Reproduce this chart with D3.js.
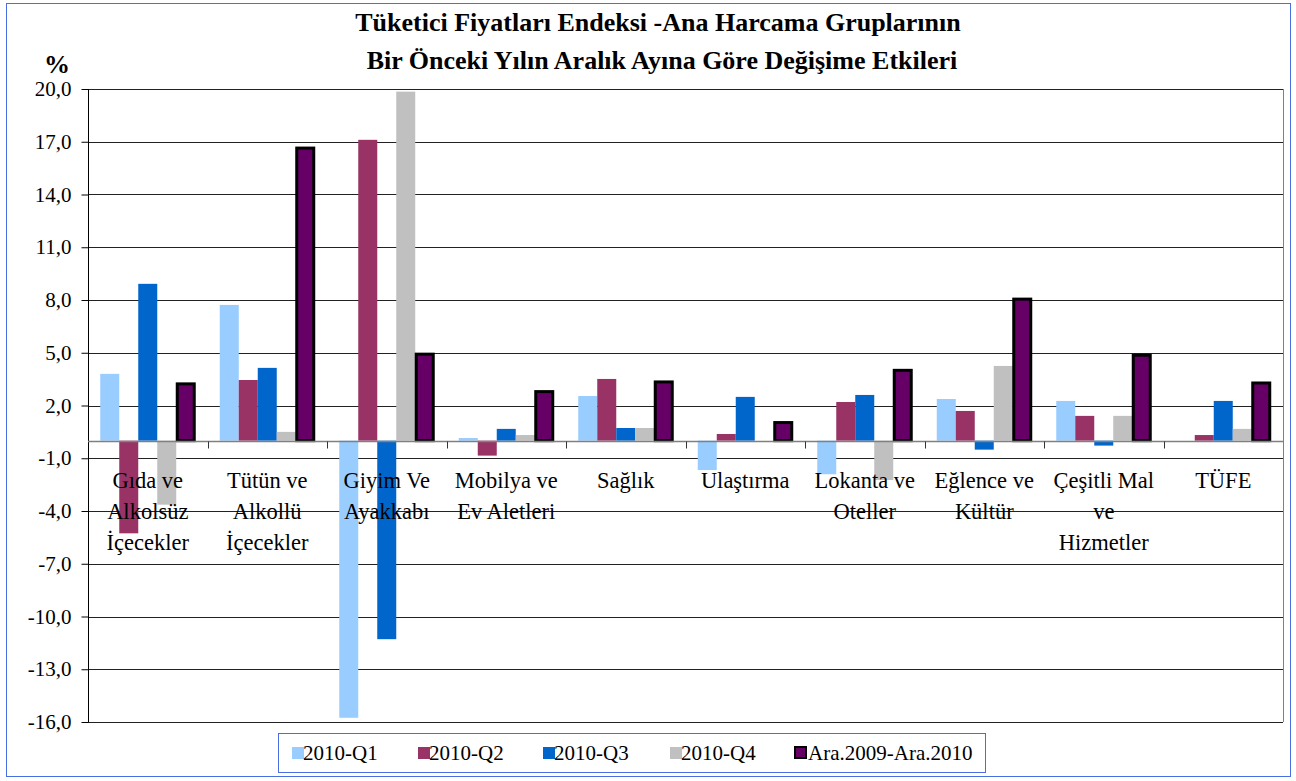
<!DOCTYPE html>
<html>
<head>
<meta charset="utf-8">
<script src="https://cdn.jsdelivr.net/npm/d3@7"></script>
<style>
  body { margin: 0; background: #fff; }
  svg { display: block; font-family: "Liberation Serif", "Times New Roman", serif; }
</style>
</head>
<body>
<svg id="chart"></svg>
<script>
// categories (multi-line labels)
const categories = [
  ["Gıda ve", "Alkolsüz", "İçecekler"],
  ["Tütün ve", "Alkollü", "İçecekler"],
  ["Giyim Ve", "Ayakkabı"],
  ["Mobilya ve", "Ev Aletleri"],
  ["Sağlık"],
  ["Ulaştırma"],
  ["Lokanta ve", "Oteller"],
  ["Eğlence ve", "Kültür"],
  ["Çeşitli Mal", "ve", "Hizmetler"],
  ["TÜFE"]
];

const seriesNames = ["2010-Q1", "2010-Q2", "2010-Q3", "2010-Q4", "Ara.2009-Ara.2010"];
const seriesColors = ["#99CCFF", "#993366", "#0066CC", "#C0C0C0", "#660066"];

const q1 = [3.80, 7.72, -15.76, 0.15, 2.54, -1.67, -1.91, 2.37, 2.26, 0.00];
const q2 = [-5.27, 3.45, 17.11, -0.85, 3.51, 0.38, 2.20, 1.69, 1.41, 0.32];
const q3 = [8.92, 4.14, -11.29, 0.67, 0.72, 2.49, 2.60, -0.51, -0.28, 2.26];
const q4 = [-3.64, 0.50, 19.85, 0.32, 0.72, 0.00, -2.24, 4.25, 1.41, 0.67];
const annual = [3.23, 16.64, 4.92, 2.79, 3.34, 1.03, 4.00, 8.05, 4.86, 3.28];

const yTicks = [20, 17, 14, 11, 8, 5, 2, -1, -4, -7, -10, -13, -16];

const seriesValues = [q1, q2, q3, q4, annual];

const W = 1296, H = 781;
const margin = {top: 89, right: 13, bottom: 59, left: 88};
const serif = "'Liberation Serif', 'Times New Roman', serif";

const svg = d3.select("#chart").attr("width", W).attr("height", H);

// outer chart border
svg.append("rect")
    .attr("x", 6.5).attr("y", 3.5)
    .attr("width", 1284).attr("height", 773)
    .attr("fill", "#fff")
    .attr("stroke", "#4A6FE3")
    .attr("stroke-width", 1);

const x0 = d3.scaleBand()
    .domain(d3.range(categories.length))
    .range([margin.left, W - margin.right])
    .padding(0);

const x1 = d3.scaleBand()
    .domain(d3.range(seriesNames.length))
    .range([0, x0.bandwidth()])
    .paddingInner(0)
    .paddingOuter(0.645);

const y = d3.scaleLinear()
    .domain([-16, 20])
    .range([H - margin.bottom, margin.top]);

// gridlines
const g = svg.append("g");

g.append("g")
    .selectAll("line")
    .data(yTicks)
    .join("line")
      .attr("x1", margin.left)
      .attr("x2", W - margin.right)
      .attr("y1", d => Math.round(y(d)) + 0.5)
      .attr("y2", d => Math.round(y(d)) + 0.5)
      .attr("stroke", "#222")
      .attr("stroke-width", 1);

// right border of plot area
g.append("line")
    .attr("x1", W - margin.right + 0.5).attr("x2", W - margin.right + 0.5)
    .attr("y1", y(20)).attr("y2", y(-16))
    .attr("stroke", "#808080");

// y axis
const yAxis = d3.axisLeft(y)
    .tickValues(yTicks)
    .tickSize(7)
    .tickPadding(10)
    .tickFormat(d => d3.format(".1f")(d).replace(".", ",").replace("−", "-"));

const ya = svg.append("g")
    .attr("transform", `translate(${margin.left + 0.5},0)`)
    .call(yAxis)
    .attr("font-family", serif)
    .attr("font-size", 21);
ya.select(".domain").attr("stroke", "#000").attr("d", `M0,${y(20)}V${y(-16)}`);
ya.selectAll(".tick line").attr("stroke", "#000");
ya.selectAll(".tick text").attr("fill", "#000");

// bars
const rows = categories.map((c, i) => seriesValues.map((s, k) => ({cat: i, ser: k, v: s[i]})));

svg.append("g")
  .selectAll("g")
  .data(rows)
  .join("g")
    .attr("transform", (d, i) => `translate(${x0(i)},0)`)
  .selectAll("rect")
  .data(d => d)
  .join("rect")
    .attr("x", d => x1(d.ser) + (d.ser === 4 ? 1 : 0))
    .attr("width", d => x1.bandwidth() - (d.ser === 4 ? 2 : 0))
    .attr("y", d => y(Math.max(0, d.v)))
    .attr("height", d => Math.abs(y(d.v) - y(0)))
    .attr("fill", d => seriesColors[d.ser])
    .attr("stroke", d => d.ser === 4 ? "#000" : "none")
    .attr("stroke-width", 3);

// zero axis with category ticks
const zy = Math.round(y(0)) + 0.5;
svg.append("line")
    .attr("x1", margin.left).attr("x2", W - margin.right)
    .attr("y1", zy).attr("y2", zy)
    .attr("stroke", "#808080").attr("stroke-width", 1.5);

svg.append("g")
  .selectAll("line")
  .data(d3.range(1, categories.length))
  .join("line")
    .attr("x1", d => Math.round(x0(d)) + 0.5)
    .attr("x2", d => Math.round(x0(d)) + 0.5)
    .attr("y1", zy).attr("y2", zy + 7)
    .attr("stroke", "#333");

// category labels, drawn on top of the bars
const labels = svg.append("g")
    .attr("font-family", serif);
categories.forEach((lines, i) => {
  const t = labels.append("text")
      .attr("x", x0(i) + x0.bandwidth() / 2)
      .attr("y", 488)
      .attr("text-anchor", "middle")
      .attr("font-size", 22.5)
      .attr("fill", "#000");
  lines.forEach((ln, j) => {
    t.append("tspan")
      .attr("x", x0(i) + x0.bandwidth() / 2)
      .attr("dy", j === 0 ? 0 : 31)
      .text(ln);
  });
});

// title
const title = svg.append("text")
    .attr("x", 658).attr("y", 31)
    .attr("text-anchor", "middle")
    .attr("font-family", serif)
    .attr("font-size", 26)
    .attr("font-weight", "bold")
    .attr("fill", "#000");
title.append("tspan").attr("x", 658).attr("dy", 0)
    .text("Tüketici Fiyatları Endeksi -Ana Harcama Gruplarının");
title.append("tspan").attr("x", 662).attr("dy", 38)
    .text("Bir Önceki Yılın Aralık Ayına Göre Değişime Etkileri");

// % unit
svg.append("text")
    .attr("x", 57).attr("y", 73)
    .attr("text-anchor", "middle")
    .attr("font-family", serif)
    .attr("font-size", 26)
    .attr("font-weight", "bold")
    .text("%");

// legend
const legend = svg.append("g").attr("font-family", serif);
legend.append("rect")
    .attr("x", 278.5).attr("y", 733.5)
    .attr("width", 707).attr("height", 39)
    .attr("fill", "#fff")
    .attr("stroke", "#4A6FE3");

const legX = [292, 418, 543, 670, 795];
seriesNames.forEach((name, k) => {
  legend.append("rect")
      .attr("x", legX[k]).attr("y", 747)
      .attr("width", k === 4 ? 11 : 12).attr("height", k === 4 ? 11 : 12)
      .attr("fill", seriesColors[k])
      .attr("stroke", k === 4 ? "#000" : "none")
      .attr("stroke-width", 2);
  legend.append("text")
      .attr("x", legX[k] + (k === 4 ? 13 : 11))
      .attr("y", 760)
      .attr("font-size", 21)
      .attr("fill", "#000")
      .text(name);
});
</script>
</body>
</html>
